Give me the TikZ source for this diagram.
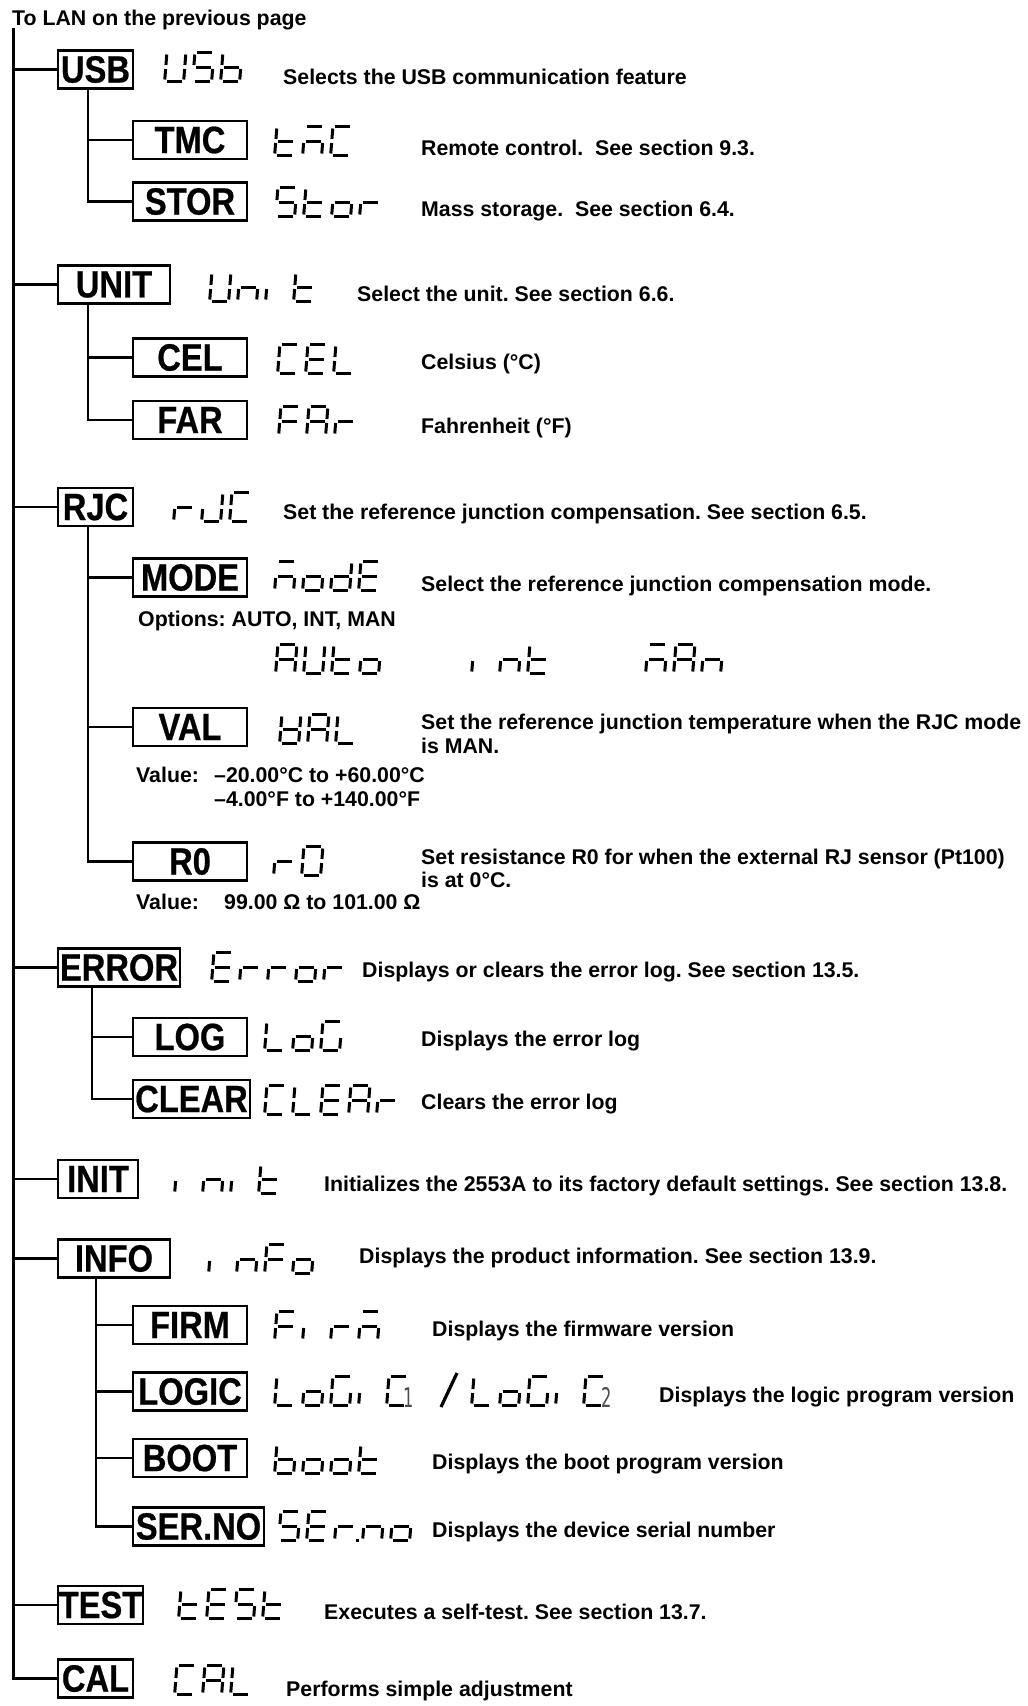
\documentclass[tikz,border=0pt]{standalone}
\usepackage{fontspec}
\setmainfont{Liberation Sans}
\newfontfamily\lblfont{Liberation Sans}[FakeStretch=0.86,FakeBold=0.6]
\newfontfamily\smallfont{DejaVu Sans}[FakeStretch=0.6]
\frenchspacing
\newcommand\defglyph[2]{\expandafter\def\csname sg@#1\endcsname{#2}}
\newcommand\defseg[2]{\expandafter\def\csname sd@#1\endcsname{\draw[segline] #2;}}
\defseg{a}{(3.5,30.5) -- (18.5,30.5)}
\defseg{g}{(3.5,16) -- (18.5,16)}
\defseg{d}{(3.5,1.5) -- (18.5,1.5)}
\defseg{f}{(1.5,18) -- (1.5,28.5)}
\defseg{e}{(1.5,3.5) -- (1.5,14)}
\defseg{b}{(20.5,18) -- (20.5,28.5)}
\defseg{c}{(20.5,3.5) -- (20.5,14)}
\defglyph{U}{b,c,d,e,f}
\defglyph{S}{a,f,g,c,d}
\defglyph{b}{f,e,d,c,g}
\defglyph{t}{f,e,d,g}
\defglyph{m}{a,c,e,g}
\defglyph{C}{a,f,e,d}
\defglyph{o}{c,d,e,g}
\defglyph{r}{e,g}
\defglyph{n}{c,e,g}
\defglyph{i}{e}
\defglyph{E}{a,f,g,e,d}
\defglyph{L}{f,e,d}
\defglyph{F}{a,f,g,e}
\defglyph{A}{a,b,c,e,f,g}
\defglyph{J}{b,c,d,e}
\defglyph{d}{b,c,d,e,g}
\defglyph{V}{b,c,d,e,f,g}
\defglyph{0}{a,b,c,d,e,f}
\defglyph{G}{a,f,e,d,c}
\newcommand\glyphat[3]{%
  \begin{scope}[shift={(#1,#2)},x=1pt,y=1pt,xslant=0.08]
    \edef\seglist{\csname sg@#3\endcsname}%
    \foreach \sgm in \seglist {\csname sd@\sgm\endcsname}%
  \end{scope}}
\newcommand\dispstr[3]{%
  \foreach \gl [count=\k from 0] in {#3} {%
    \pgfmathsetmacro\gx{#1+28*\k}%
    \glyphat{\gx}{#2}{\gl}}}
\begin{document}
\begin{tikzpicture}[x=1pt,y=-1pt,
  segline/.style={line width=3.0pt},
  lbox/.style={draw, line width=2.2pt, inner sep=0pt, minimum height=38pt,
    font=\lblfont\bfseries\fontsize{38}{40}\selectfont},
  desc/.style={anchor=base west, inner sep=0pt, font=\bfseries\fontsize{21.3}{24}\selectfont},
  conn/.style={line width=2.4pt}]
\useasboundingbox (0,0) rectangle (1028,1706);

% title
\node[desc] (lan) at (12,25) {To LAN on the previous page};

% level-1 boxes
\node[lbox, minimum width=75pt]  (usb)   at (95.5,69.5)  {USB};
\node[lbox, minimum width=112pt] (unit)  at (114,284.5)  {UNIT};
\node[lbox, minimum width=75pt]  (rjc)   at (95.5,507)   {RJC};
\node[lbox, minimum width=122pt] (error) at (119,967.5)  {ERROR};
\node[lbox, minimum width=80pt]  (init)  at (98,1179)    {INIT};
\node[lbox, minimum width=112pt] (info)  at (114,1258.5) {INFO};
\node[lbox, minimum width=85pt]  (test)  at (100.5,1605) {TEST};
\node[lbox, minimum width=75pt]  (cal)   at (95.5,1678.5){CAL};

% level-2 boxes
\node[lbox, minimum width=114pt] (tmc)   at (190,140)    {TMC};
\node[lbox, minimum width=114pt] (stor)  at (190,201.5)  {STOR};
\node[lbox, minimum width=114pt] (cel)   at (190,357.5)  {CEL};
\node[lbox, minimum width=114pt] (far)   at (190,420)    {FAR};
\node[lbox, minimum width=114pt] (mode)  at (190,577.5)  {MODE};
\node[lbox, minimum width=114pt] (val)   at (190,727)    {VAL};
\node[lbox, minimum width=114pt] (rzero) at (190,861.5)  {R0};
\node[lbox, minimum width=114pt] (log)   at (190,1037)   {LOG};
\node[lbox, minimum width=117pt] (clear) at (191.5,1099) {CLEAR};
\node[lbox, minimum width=114pt] (firm)  at (190,1325)   {FIRM};
\node[lbox, minimum width=114pt] (logic) at (190,1391.5) {LOGIC};
\node[lbox, minimum width=114pt] (boot)  at (190,1458)   {BOOT};
\node[lbox, minimum width=131pt] (serno) at (198.5,1526.5){SER.NO};

% main trunk
\coordinate (mtop) at (13.5,28);
\draw[conn] (mtop) |- (cal.west);
\foreach \n in {usb,unit,rjc,error,init,info,test}
  \draw[conn] (\n.west) -- (\n.west -| mtop);

% sub trunks
\draw[conn] ([xshift=31pt]usb.south west) |- (tmc.west);
\draw[conn] ([xshift=31pt]usb.south west) |- (stor.west);
\draw[conn] ([xshift=31pt]unit.south west) |- (cel.west);
\draw[conn] ([xshift=31pt]unit.south west) |- (far.west);
\draw[conn] ([xshift=31pt]rjc.south west) |- (mode.west);
\draw[conn] ([xshift=31pt]rjc.south west) |- (val.west);
\draw[conn] ([xshift=31pt]rjc.south west) |- (rzero.west);
\draw[conn] ([xshift=35pt]error.south west) |- (log.west);
\draw[conn] ([xshift=35pt]error.south west) |- (clear.west);
\draw[conn] ([xshift=39pt]info.south west) |- (firm.west);
\draw[conn] ([xshift=39pt]info.south west) |- (logic.west);
\draw[conn] ([xshift=39pt]info.south west) |- (boot.west);
\draw[conn] ([xshift=39pt]info.south west) |- (serno.west);

% seven-segment displays
\dispstr{163}{83}{U,S,b}
\dispstr{273}{157}{t,m,C}
\dispstr{274}{218}{S,t,o,r}
\dispstr{208}{303}{U,n,i,t}
\dispstr{276}{375}{C,E,L}
\dispstr{277}{437}{F,A,r}
\dispstr{172}{523}{r,J,C}
\dispstr{273}{592}{m,o,d,E}
\dispstr{274}{675}{A,U,t,o}
\dispstr{470}{675}{i,n,t}
\dispstr{644}{675}{m,A,n}
\dispstr{278}{745}{V,A,L}
\dispstr{272}{877}{r,0}
\dispstr{210}{983}{E,r,r,o,r}
\dispstr{263}{1052}{L,o,G}
\dispstr{263}{1116}{C,L,E,A,r}
\dispstr{173}{1195}{i,n,i,t}
\dispstr{207}{1275}{i,n,F,o}
\dispstr{273}{1342}{F,i,r,m}
\dispstr{273}{1407}{L,o,G,i,C}
\node[anchor=base west, inner sep=0pt, text=black!70, font=\smallfont\fontsize{27}{27}\selectfont] (one) at (403,1407) {1};
\draw[line width=3.2pt] (441,1407) -- (457,1373);
\dispstr{470}{1407}{L,o,G,i,C}
\node[anchor=base west, inner sep=0pt, text=black!70, font=\smallfont\fontsize{27}{27}\selectfont] (two) at (601,1407) {2};
\dispstr{273}{1475}{b,o,o,t}
\dispstr{277}{1542}{S,E,r,n,o}
\fill (356,1539) rectangle (359.2,1542.2);
\dispstr{177}{1620}{t,E,S,t}
\dispstr{173}{1696}{C,A,L}

% descriptions
\node[desc] (d1)  at (283,84.5)  {Selects the USB communication feature};
\node[desc] (d2)  at (421,155.5) {Remote control.~ See section 9.3.};
\node[desc] (d3)  at (421,216.5) {Mass storage.~ See section 6.4.};
\node[desc] (d4)  at (357,301.5) {Select the unit. See section 6.6.};
\node[desc] (d5)  at (421,369.5) {Celsius (°C)};
\node[desc] (d6)  at (421,433.5) {Fahrenheit (°F)};
\node[desc] (d7)  at (283,519.5) {Set the reference junction compensation. See section 6.5.};
\node[desc] (d8)  at (421,591.5) {Select the reference junction compensation mode.};
\node[desc] (d9)  at (138,626.5) {Options: AUTO, INT, MAN};
\node[desc] (d10) at (421,729.5) {Set the reference junction temperature when the RJC mode};
\node[desc] (d10b) at (421,753.5) {is MAN.};
\node[desc] (v1)  at (136,782.5) {Value:};
\node[desc] (v1a) at (214,782.5) {–20.00°C to +60.00°C};
\node[desc] (v1b) at (214,806.5) {–4.00°F to +140.00°F};
\node[desc] (d12) at (421,864.5) {Set resistance R0 for when the external RJ sensor (Pt100)};
\node[desc] (d12b) at (421,887.5) {is at 0°C.};
\node[desc] (v2)  at (136,909.5) {Value:};
\node[desc] (v2a) at (224,909.5) {99.00 Ω to 101.00 Ω};
\node[desc] (d14) at (362,977.5) {Displays or clears the error log. See section 13.5.};
\node[desc] (d15) at (421,1046.5) {Displays the error log};
\node[desc] (d16) at (421,1109.5) {Clears the error log};
\node[desc] (d17) at (324,1191.5) {Initializes the 2553A to its factory default settings. See section 13.8.};
\node[desc] (d18) at (359,1263.5) {Displays the product information. See section 13.9.};
\node[desc] (d19) at (432,1336.5) {Displays the firmware version};
\node[desc] (d20) at (659,1402.5) {Displays the logic program version};
\node[desc] (d21) at (432,1469.5) {Displays the boot program version};
\node[desc] (d22) at (432,1537.5) {Displays the device serial number};
\node[desc] (d23) at (324,1619.5) {Executes a self-test. See section 13.7.};
\node[desc] (d24) at (286,1696.5) {Performs simple adjustment};
\end{tikzpicture}
\end{document}
